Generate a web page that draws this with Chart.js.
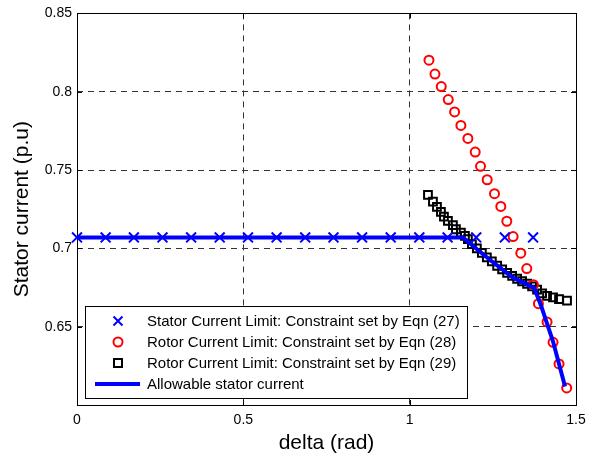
<!DOCTYPE html>
<html>
<head>
<meta charset="utf-8">
<script src="https://cdn.jsdelivr.net/npm/chart.js@4/dist/chart.umd.min.js"></script>
<style>
  html, body { margin: 0; padding: 0; background: #fff; }
  #wrap { width: 602px; height: 456px; }
</style>
</head>
<body>
<div id="wrap"><canvas id="chart" width="602" height="456"></canvas></div>
<script>
// delta (rad) / stator current (p.u)
const statorDelta = [0, 0.086, 0.171, 0.257, 0.343, 0.429, 0.514, 0.600, 0.686, 0.771, 0.857, 0.943, 1.029, 1.114, 1.200, 1.286, 1.371]
const statorCurrent = [0.707, 0.707, 0.707, 0.707, 0.707, 0.707, 0.707, 0.707, 0.707, 0.707, 0.707, 0.707, 0.707, 0.707, 0.707, 0.707, 0.707]

const rotor28Delta = [1.058, 1.076, 1.095, 1.116, 1.135, 1.154, 1.175, 1.197, 1.213, 1.233, 1.255, 1.274, 1.292, 1.311, 1.334, 1.352, 1.372, 1.387, 1.413, 1.431, 1.449, 1.472]
const rotor28Current = [0.8201, 0.8113, 0.8033, 0.7950, 0.7871, 0.7785, 0.7702, 0.7615, 0.7524, 0.7438, 0.7349, 0.7268, 0.7173, 0.7075, 0.6969, 0.6871, 0.6768, 0.6647, 0.6530, 0.6400, 0.6262, 0.6109]

const rotor29Delta = [1.055, 1.070, 1.082, 1.094, 1.103, 1.115, 1.130, 1.139, 1.154, 1.166, 1.175, 1.187, 1.202, 1.217, 1.232, 1.247, 1.263, 1.278, 1.293, 1.308, 1.323, 1.338, 1.353, 1.368, 1.383, 1.398, 1.413, 1.431, 1.449, 1.473]
const rotor29Current = [0.7341, 0.7298, 0.7265, 0.7233, 0.7203, 0.7175, 0.7148, 0.7122, 0.7101, 0.7080, 0.7059, 0.7027, 0.7000, 0.6971, 0.6943, 0.6917, 0.6889, 0.6866, 0.6844, 0.6825, 0.6806, 0.6790, 0.6774, 0.6758, 0.6736, 0.6713, 0.6697, 0.6687, 0.6676, 0.6666]

const allowDelta = [0, 1.160, 1.196, 1.241, 1.311, 1.374, 1.395, 1.431, 1.467]
const allowCurrent = [0.707, 0.707, 0.7005, 0.6927, 0.6812, 0.6748, 0.6634, 0.6405, 0.6118]

const xTicks = [0, 0.5, 1, 1.5]
const yTicks = [0.6, 0.65, 0.7, 0.75, 0.8, 0.85]

const labels = [
  "Stator Current Limit: Constraint set by Eqn (27)",
  "Rotor Current Limit: Constraint set by Eqn (28)",
  "Rotor Current Limit: Constraint set by Eqn (29)",
  "Allowable stator current",
]

const FONT = "'Liberation Sans', Arial, Helvetica, sans-serif"

function toPoints(xs, ys) {
  return xs.map((x, i) => ({ x: x, y: ys[i] }))
}

// axes box, inward ticks, and the boxed legend in the lower left
const framePlugin = {
  id: "frame",
  beforeDatasetsDraw(chart) {
    const { ctx, chartArea: a, scales } = chart
    ctx.save()
    ctx.strokeStyle = "#000"
    ctx.lineWidth = 1
    ctx.beginPath()
    xTicks.forEach((v) => {
      const px = Math.round(scales.x.getPixelForValue(v)) + 0.5
      ctx.moveTo(px, a.bottom); ctx.lineTo(px, a.bottom - 5)
      ctx.moveTo(px, a.top); ctx.lineTo(px, a.top + 5)
    })
    yTicks.forEach((v) => {
      const py = Math.round(scales.y.getPixelForValue(v)) + 0.5
      ctx.moveTo(a.left, py); ctx.lineTo(a.left + 5, py)
      ctx.moveTo(a.right, py); ctx.lineTo(a.right - 5, py)
    })
    ctx.stroke()
    ctx.strokeRect(Math.round(a.left) + 0.5, Math.round(a.top) + 0.5, Math.round(a.right - a.left), Math.round(a.bottom - a.top))
    ctx.restore()
  },
  afterDraw(chart) {
    const ctx = chart.ctx
    const bx = 85, by = 306, bw = 382, bh = 92
    ctx.save()
    ctx.fillStyle = "#fff"
    ctx.fillRect(bx, by, bw, bh)
    ctx.strokeStyle = "#000"
    ctx.lineWidth = 1
    ctx.strokeRect(bx + 0.5, by + 0.5, bw, bh)

    ctx.font = "15px " + FONT
    ctx.fillStyle = "#000"
    ctx.textBaseline = "middle"
    const mx = 118, tx = 147
    const rows = [321, 342, 363, 384]
    rows.forEach((ry, i) => {
      ctx.fillStyle = "#000"
      ctx.fillText(labels[i], tx, ry + 1)
    })
    ctx.lineWidth = 2
    // cross
    ctx.strokeStyle = "#0000ff"
    ctx.beginPath()
    ctx.moveTo(mx - 4.5, rows[0] - 4.5); ctx.lineTo(mx + 4.5, rows[0] + 4.5)
    ctx.moveTo(mx + 4.5, rows[0] - 4.5); ctx.lineTo(mx - 4.5, rows[0] + 4.5)
    ctx.stroke()
    // circle
    ctx.strokeStyle = "#ff0000"
    ctx.beginPath()
    ctx.arc(mx, rows[1], 4.5, 0, Math.PI * 2)
    ctx.stroke()
    // square
    ctx.strokeStyle = "#000"
    ctx.strokeRect(mx - 4, rows[2] - 4, 8, 8)
    // line
    ctx.strokeStyle = "#0000ff"
    ctx.lineWidth = 4
    ctx.beginPath()
    ctx.moveTo(95, rows[3]); ctx.lineTo(140, rows[3])
    ctx.stroke()
    ctx.restore()
  },
}

const ctx = document.getElementById("chart")

new Chart(ctx, {
  type: "scatter",
  data: {
    datasets: [
      {
        label: labels[3],
        data: toPoints(allowDelta, allowCurrent),
        showLine: true,
        borderColor: "#0000ff",
        borderWidth: 4,
        pointRadius: 0,
        order: 0,
        clip: false,
      },
      {
        label: labels[0],
        data: toPoints(statorDelta, statorCurrent),
        pointStyle: "crossRot",
        pointRadius: 7,
        borderColor: "#0000ff",
        borderWidth: 2,
        order: 1,
        clip: false,
      },
      {
        label: labels[1],
        data: toPoints(rotor28Delta, rotor28Current),
        pointStyle: "circle",
        pointRadius: 4.5,
        borderColor: "#ff0000",
        backgroundColor: "rgba(0,0,0,0)",
        borderWidth: 2,
        order: 2,
        clip: false,
      },
      {
        label: labels[2],
        data: toPoints(rotor29Delta, rotor29Current),
        pointStyle: "rect",
        pointRadius: 5.5,
        borderColor: "#000",
        backgroundColor: "rgba(0,0,0,0)",
        borderWidth: 2,
        order: 3,
        clip: false,
      },
    ],
  },
  options: {
    responsive: false,
    animation: false,
    events: [],
    layout: { padding: { top: 12, right: 26, left: 0, bottom: 0 } },
    plugins: {
      legend: { display: false },
      tooltip: { enabled: false },
    },
    scales: {
      x: {
        type: "linear",
        min: 0,
        max: 1.5,
        afterFit: (s) => { s.height = 51 },
        afterBuildTicks: (s) => { s.ticks = xTicks.map((v) => ({ value: v })) },
        ticks: {
          padding: 7,
          color: "#000",
          font: { family: FONT, size: 14 },
          maxRotation: 0,
          callback: (v) => String(v),
        },
        grid: { color: "#333", lineWidth: 1, drawTicks: false },
        border: { display: false, dash: [6, 5] },
        title: {
          display: true,
          text: "delta (rad)",
          color: "#000",
          font: { family: FONT, size: 21 },
          padding: { top: 3, bottom: 0 },
        },
      },
      y: {
        type: "linear",
        min: 0.6,
        max: 0.85,
        afterFit: (s) => { s.width = 77 },
        afterBuildTicks: (s) => { s.ticks = yTicks.map((v) => ({ value: v })) },
        ticks: {
          padding: 5,
          color: "#000",
          font: { family: FONT, size: 14 },
          callback: (v) => (Math.abs(v - 0.6) < 1e-6 ? "" : String(Math.round(v * 100) / 100)),
        },
        grid: { color: "#333", lineWidth: 1, drawTicks: false },
        border: { display: false, dash: [6, 5] },
        title: {
          display: true,
          text: "Stator current (p.u)",
          color: "#000",
          font: { family: FONT, size: 21 },
          padding: { top: 10, bottom: 0 },
        },
      },
    },
  },
  plugins: [framePlugin],
})
</script>
</body>
</html>
